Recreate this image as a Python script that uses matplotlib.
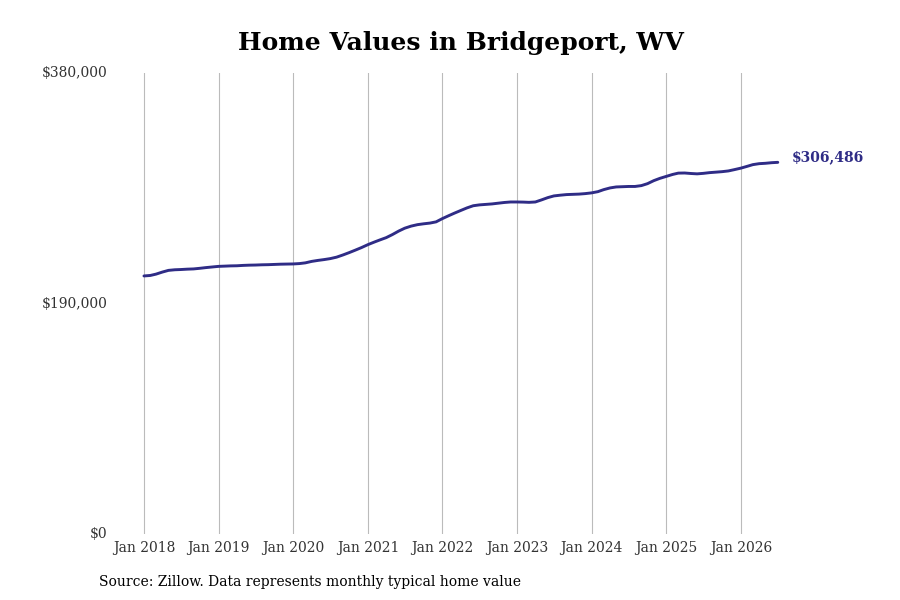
import datetime as dt
import matplotlib
matplotlib.use("Agg")
import matplotlib.pyplot as plt
import matplotlib.dates as mdates
from matplotlib.ticker import FuncFormatter

# monthly typical home value, Jan 2018 .. Jul 2026
start_year = 2018
values = [
    212800, 213200, 214300, 216000, 217400, 217900, 218100, 218400, 218600, 219100, 219700, 220200,
    220700, 220900, 221100, 221200, 221500, 221700, 221800, 222000, 222100, 222300, 222500, 222600,
    222700, 223000, 223600, 224800, 225600, 226300, 227100, 228300, 230100, 232000, 234100, 236200,
    238600, 240700, 242500, 244400, 246900, 249800, 252200, 253900, 255100, 255800, 256400, 257400,
    260100, 262500, 264600, 266800, 268900, 270700, 271400, 271800, 272200, 272800, 273400, 273800,
    273800, 273700, 273500, 273800, 275500, 277400, 278800, 279400, 279900, 280100, 280300, 280700,
    281300, 282300, 284000, 285400, 286200, 286400, 286600, 286600, 287300, 288900, 291400, 293300,
    294900, 296500, 297600, 297700, 297300, 297000, 297400, 298000, 298400, 298800, 299400, 300500,
    301700, 303200, 304600, 305400, 305700, 306200, 306486,
]
dates = [dt.date(start_year + i // 12, i % 12 + 1, 1) for i in range(len(values))]
tick_years = list(range(2018, 2027))
y_ticks = [0, 190000, 380000]

line_color = "#2f2c86"

plt.rcParams["font.family"] = "DejaVu Serif"
fig = plt.figure(figsize=(9, 6), dpi=100)
ax = fig.add_axes([0.12, 0.11, 0.84, 0.768])

ax.plot(dates, values, color=line_color, linewidth=2.1, solid_capstyle="round")

d0 = mdates.date2num(dt.date(2018, 1, 1))
ax.set_xlim(d0 - 176, d0 + 3525)
ax.set_ylim(0, 380000)

ax.set_xticks([dt.date(y, 1, 1) for y in tick_years])
ax.xaxis.set_major_formatter(mdates.DateFormatter("Jan %Y"))
ax.set_yticks(y_ticks)
ax.yaxis.set_major_formatter(FuncFormatter(lambda v, p: f"${v:,.0f}"))
ax.tick_params(axis="both", length=0, labelsize=10, labelcolor="#333333")
ax.tick_params(axis="x", pad=5)
ax.tick_params(axis="y", pad=0.5)
for lbl in ax.get_yticklabels():
    lbl.set_verticalalignment("center")

ax.grid(axis="x", color="#bbbbbb", linewidth=0.8)
ax.grid(axis="y", visible=False)
for s in ax.spines.values():
    s.set_visible(False)

ax.annotate(f"${values[-1]:,.0f}", xy=(dates[-1], values[-1]), xytext=(10, 4),
            textcoords="offset points", color=line_color, fontsize=10,
            fontweight="bold", va="center", ha="left")

fig.text(0.512, 0.928, "Home Values in Bridgeport, WV", ha="center", va="center",
         fontsize=18, fontweight="bold")
fig.text(0.11, 0.03, "Source: Zillow. Data represents monthly typical home value",
         ha="left", va="center", fontsize=10)

fig.savefig("out.png", dpi=100)
